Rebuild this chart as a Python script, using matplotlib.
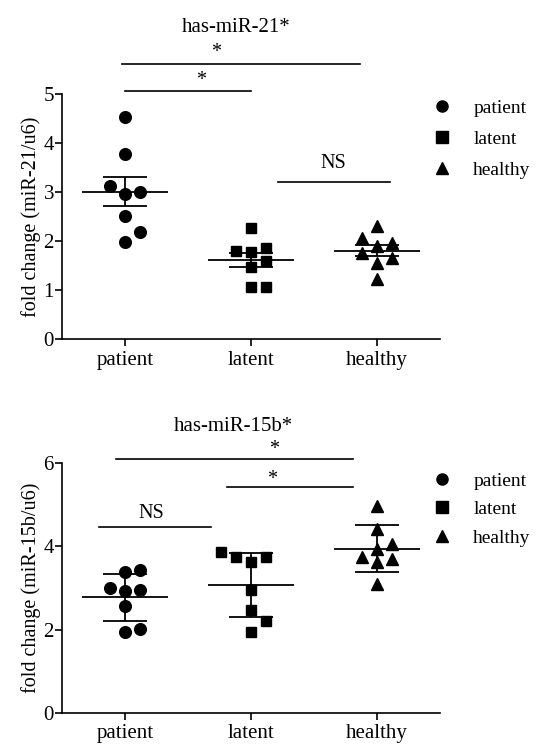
import numpy as np
import matplotlib.pyplot as plt
from matplotlib.lines import Line2D

plt.rcParams['font.family'] = ['Liberation Serif', 'DejaVu Serif']

groups = ['patient', 'latent', 'healthy']
markers = ['o', 's', '^']

# has-miR-21 fold change (miR-21/u6)
mir21_patient = [4.53, 3.78, 3.13, 2.96, 3.01, 2.51, 2.19, 1.98]
mir21_latent = [2.28, 1.87, 1.79, 1.81, 1.59, 1.47, 1.06, 1.07]
mir21_healthy = [2.31, 2.07, 1.97, 1.91, 1.77, 1.65, 1.56, 1.24]

# has-miR-15b fold change (miR-15b/u6)
mir15b_patient = [3.43, 3.38, 3.00, 2.92, 2.96, 2.56, 1.96, 2.02]
mir15b_latent = [3.86, 3.74, 3.62, 3.74, 2.96, 2.48, 2.22, 1.94]
mir15b_healthy = [4.98, 4.42, 3.94, 4.06, 3.70, 3.75, 3.62, 3.10]


def swarm_offsets(vals, ax, step=0.12, diam_px=12.5):
    # simple beeswarm: ascending order, try centre, then right, then left
    vals = np.asarray(vals)
    order = np.argsort(vals, kind='stable')
    px_per_y = ax.transData.transform((0, 1))[1] - ax.transData.transform((0, 0))[1]
    px_per_x = ax.transData.transform((1, 0))[0] - ax.transData.transform((0, 0))[0]
    offs = np.zeros(len(vals))
    placed = []
    for i in order:
        for cand in [0, step, -step, -2 * step, 2 * step]:
            ok = True
            for j in placed:
                dx = (cand - offs[j]) * px_per_x
                dy = (vals[i] - vals[j]) * px_per_y
                if dx * dx + dy * dy < diam_px ** 2:
                    ok = False
                    break
            if ok:
                offs[i] = cand
                break
        placed.append(i)
    return offs


def dot_panel(ax, data, err, ylim, yticks, ylabel, leg_top, leg_space):
    ax.set_xlim(-0.5, 2.5)
    ax.set_ylim(*ylim)
    sizes = {'o': 8.4, 's': 7.6, '^': 8.6}
    for k, vals in enumerate(data):
        vals = np.asarray(vals)
        offs = swarm_offsets(vals, ax)
        ax.plot(k + offs, vals, ls='none', marker=markers[k], color='black',
                ms=sizes[markers[k]], zorder=3, clip_on=False)
        m = vals.mean()
        sd = vals.std(ddof=1)
        e = sd / np.sqrt(len(vals)) if err == 'sem' else sd
        ax.hlines(m, k - 0.34, k + 0.34, color='black', lw=1.3, zorder=4)
        ax.errorbar(k, m, yerr=e, fmt='none', ecolor='black', elinewidth=1.3,
                    capsize=15.5, capthick=1.3, zorder=4)
    ax.set_xticks(range(3))
    ax.set_xticklabels(groups, fontsize=15)
    ax.set_yticks(yticks)
    ax.tick_params(axis='y', labelsize=15, length=5, width=1.2, pad=1)
    ax.tick_params(axis='x', length=5, width=1.2, pad=3)
    ax.set_ylabel(ylabel, fontsize=14.5, labelpad=2)
    ax.spines['top'].set_visible(False)
    ax.spines['right'].set_visible(False)
    ax.spines['left'].set_linewidth(1.2)
    ax.spines['bottom'].set_linewidth(1.2)
    handles = [Line2D([], [], ls='none', marker=mk, color='black', ms=8) for mk in markers]
    ax.legend(handles, groups, loc='upper left', bbox_to_anchor=(0.98, leg_top),
              frameon=False, fontsize=14, handlelength=1.0, handletextpad=1.1,
              labelspacing=leg_space, borderpad=0, borderaxespad=0)


def sig(ax, x0, x1, y, label, tx, ty):
    ax.plot([x0, x1], [y, y], color='black', lw=1.2, clip_on=False)
    ax.text(tx, ty, label, ha='center', va='center', fontsize=14.5)


fig = plt.figure(figsize=(5.38, 7.45), dpi=100)
ax1 = fig.add_axes([0.1158, 0.5443, 0.702, 0.3295])
ax2 = fig.add_axes([0.1158, 0.04255, 0.702, 0.336])

dot_panel(ax1, [mir21_patient, mir21_latent, mir21_healthy], 'sem', (0, 5),
          [0, 1, 2, 3, 4, 5], 'fold change (miR-21/u6)', 0.977, 0.68)
ax1.text(0.88, 6.35, 'has-miR-21*', ha='center', va='center', fontsize=15)
sig(ax1, -0.025, 1.865, 5.62, '*', 0.72, 5.84)
sig(ax1, 0.0, 1.0, 5.07, '*', 0.60, 5.27)
sig(ax1, 1.21, 2.1, 3.21, 'NS', 1.65, 3.59)

dot_panel(ax2, [mir15b_patient, mir15b_latent, mir15b_healthy], 'sd', (0, 6),
          [0, 2, 4, 6], 'fold change (miR-15b/u6)', 0.964, 0.56)
ax2.text(0.86, 6.88, 'has-miR-15b*', ha='center', va='center', fontsize=15)
sig(ax2, -0.074, 1.81, 6.09, '*', 1.18, 6.32)
sig(ax2, 0.805, 1.81, 5.43, '*', 1.17, 5.6)
sig(ax2, -0.205, 0.68, 4.47, 'NS', 0.205, 4.79)

fig.savefig('out.png', dpi=100)
